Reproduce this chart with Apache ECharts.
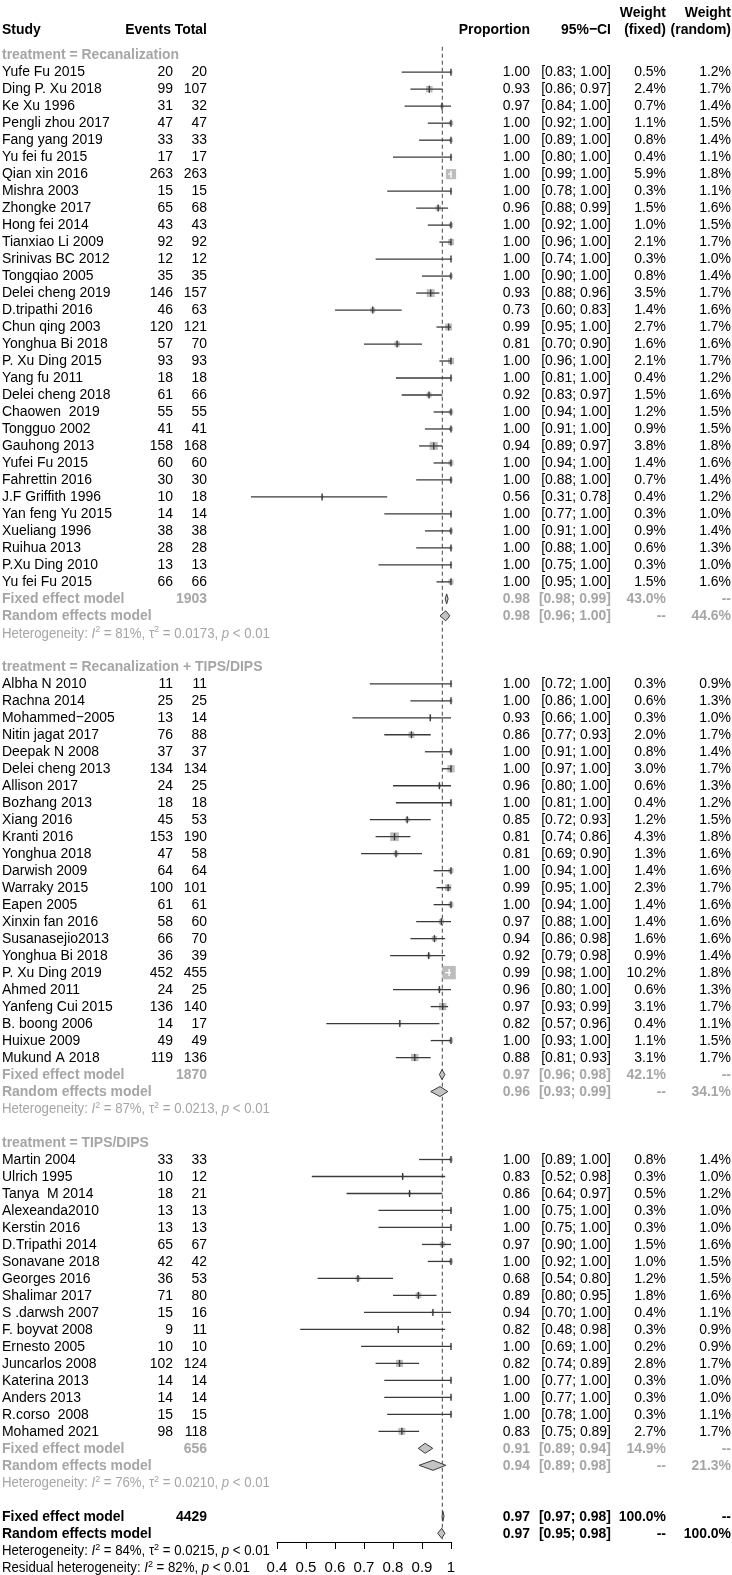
<!DOCTYPE html>
<html><head><meta charset="utf-8">
<script src="https://cdn.jsdelivr.net/npm/echarts@6/dist/echarts.min.js"></script>
<style>html,body{margin:0;padding:0;background:#fff}#c{width:732px;height:1575px}</style>
</head><body><div id="c"></div>
<script>
// ---------- DATA ----------
const groupNames = ['treatment = Recanalization', 'treatment = Recanalization + TIPS/DIPS', 'treatment = TIPS/DIPS'];

const g1Study = ['Yufe Fu 2015','Ding P. Xu 2018','Ke Xu 1996','Pengli zhou 2017','Fang yang 2019','Yu fei fu 2015','Qian xin 2016','Mishra 2003','Zhongke 2017','Hong fei 2014','Tianxiao Li 2009','Srinivas BC 2012','Tongqiao 2005','Delei cheng 2019','D.tripathi 2016','Chun qing 2003','Yonghua Bi 2018','P. Xu Ding 2015','Yang fu 2011','Delei cheng 2018','Chaowen  2019','Tongguo 2002','Gauhong 2013','Yufei Fu 2015','Fahrettin 2016','J.F Griffith 1996','Yan feng Yu 2015','Xueliang 1996','Ruihua 2013','P.Xu Ding 2010','Yu fei Fu 2015'];
const g1Events = [20,99,31,47,33,17,263,15,65,43,92,12,35,146,46,120,57,93,18,61,55,41,158,60,30,10,14,38,28,13,66];
const g1Total  = [20,107,32,47,33,17,263,15,68,43,92,12,35,157,63,121,70,93,18,66,55,41,168,60,30,18,14,38,28,13,66];
const g1Lo = [0.83,0.86,0.84,0.92,0.89,0.80,0.99,0.78,0.88,0.92,0.96,0.74,0.90,0.88,0.60,0.95,0.70,0.96,0.81,0.83,0.94,0.91,0.89,0.94,0.88,0.31,0.77,0.91,0.88,0.75,0.95];
const g1Hi = [1.00,0.97,1.00,1.00,1.00,1.00,1.00,1.00,0.99,1.00,1.00,1.00,1.00,0.96,0.83,1.00,0.90,1.00,1.00,0.97,1.00,1.00,0.97,1.00,1.00,0.78,1.00,1.00,1.00,1.00,1.00];
const g1WFixed  = [0.5,2.4,0.7,1.1,0.8,0.4,5.9,0.3,1.5,1.0,2.1,0.3,0.8,3.5,1.4,2.7,1.6,2.1,0.4,1.5,1.2,0.9,3.8,1.4,0.7,0.4,0.3,0.9,0.6,0.3,1.5];
const g1WRandom = [1.2,1.7,1.4,1.5,1.4,1.1,1.8,1.1,1.6,1.5,1.7,1.0,1.4,1.7,1.6,1.7,1.6,1.7,1.2,1.6,1.5,1.5,1.8,1.6,1.4,1.2,1.0,1.4,1.3,1.0,1.6];

const g2Study = ['Albha N 2010','Rachna 2014','Mohammed\u22122005','Nitin jagat 2017','Deepak N 2008','Delei cheng 2013','Allison 2017','Bozhang 2013','Xiang 2016','Kranti 2016','Yonghua 2018','Darwish 2009','Warraky 2015','Eapen 2005','Xinxin fan 2016','Susanasejio2013','Yonghua Bi 2018','P. Xu Ding 2019','Ahmed 2011','Yanfeng Cui 2015','B. boong 2006','Huixue 2009','Mukund A 2018'];
const g2Events = [11,25,13,76,37,134,24,18,45,153,47,64,100,61,58,66,36,452,24,136,14,49,119];
const g2Total  = [11,25,14,88,37,134,25,18,53,190,58,64,101,61,60,70,39,455,25,140,17,49,136];
const g2Lo = [0.72,0.86,0.66,0.77,0.91,0.97,0.80,0.81,0.72,0.74,0.69,0.94,0.95,0.94,0.88,0.86,0.79,0.98,0.80,0.93,0.57,0.93,0.81];
const g2Hi = [1.00,1.00,1.00,0.93,1.00,1.00,1.00,1.00,0.93,0.86,0.90,1.00,1.00,1.00,1.00,0.98,0.98,1.00,1.00,0.99,0.96,1.00,0.93];
const g2WFixed  = [0.3,0.6,0.3,2.0,0.8,3.0,0.6,0.4,1.2,4.3,1.3,1.4,2.3,1.4,1.4,1.6,0.9,10.2,0.6,3.1,0.4,1.1,3.1];
const g2WRandom = [0.9,1.3,1.0,1.7,1.4,1.7,1.3,1.2,1.5,1.8,1.6,1.6,1.7,1.6,1.6,1.6,1.4,1.8,1.3,1.7,1.1,1.5,1.7];

const g3Study = ['Martin 2004','Ulrich 1995','Tanya  M 2014','Alexeanda2010','Kerstin 2016','D.Tripathi 2014','Sonavane 2018','Georges 2016','Shalimar 2017','S .darwsh 2007','F. boyvat 2008','Ernesto 2005','Juncarlos 2008','Katerina 2013','Anders 2013','R.corso  2008','Mohamed 2021'];
const g3Events = [33,10,18,13,13,65,42,36,71,15,9,10,102,14,14,15,98];
const g3Total  = [33,12,21,13,13,67,42,53,80,16,11,10,124,14,14,15,118];
const g3Lo = [0.89,0.52,0.64,0.75,0.75,0.90,0.92,0.54,0.80,0.70,0.48,0.69,0.74,0.77,0.77,0.78,0.75];
const g3Hi = [1.00,0.98,0.97,1.00,1.00,1.00,1.00,0.80,0.95,1.00,0.98,1.00,0.89,1.00,1.00,1.00,0.89];
const g3WFixed  = [0.8,0.3,0.5,0.3,0.3,1.5,1.0,1.2,1.8,0.4,0.3,0.2,2.8,0.3,0.3,0.3,2.7];
const g3WRandom = [1.4,1.0,1.2,1.0,1.0,1.6,1.5,1.5,1.6,1.1,0.9,0.9,1.7,1.0,1.0,1.1,1.7];

// pooled estimates per subgroup (diamond geometry) and their printed labels
const groupTotal = [1903, 1870, 656];
const fixedEst = [0.985, 0.969, 0.911];
const fixedLo  = [0.980, 0.960, 0.887];
const fixedHi  = [0.990, 0.979, 0.937];
const fixedLabel = ['0.98 [0.98; 0.99]', '0.97 [0.96; 0.98]', '0.91 [0.89; 0.94]'];
const fixedWeight = ['43.0%', '42.1%', '14.9%'];
const randomEst = [0.982, 0.962, 0.938];
const randomLo  = [0.962, 0.930, 0.890];
const randomHi  = [0.996, 0.989, 0.982];
const randomLabel = ['0.98 [0.96; 1.00]', '0.96 [0.93; 0.99]', '0.94 [0.89; 0.98]'];
const randomWeight = ['44.6%', '34.1%', '21.3%'];
const hetI2 = ['81%', '87%', '76%'];
const hetTau2 = ['0.0173', '0.0213', '0.0210'];

const overallTotal = 4429;
const overallFixed = [0.972, 0.969, 0.976];   // est, lo, hi
const overallFixedLabel = '0.97 [0.97; 0.98]';
const overallRandom = [0.968, 0.954, 0.979];
const overallRandomLabel = '0.97 [0.95; 0.98]';
const overallI2 = '84%', overallTau2 = '0.0215', residualI2 = '82%';
const refLine = 0.97;

const xTicks = [0.4, 0.5, 0.6, 0.7, 0.8, 0.9, 1];

// ---------- BUILD ROWS ----------
const groups = [
  {study:g1Study, ev:g1Events, tot:g1Total, lo:g1Lo, hi:g1Hi, wf:g1WFixed, wr:g1WRandom},
  {study:g2Study, ev:g2Events, tot:g2Total, lo:g2Lo, hi:g2Hi, wf:g2WFixed, wr:g2WRandom},
  {study:g3Study, ev:g3Events, tot:g3Total, lo:g3Lo, hi:g3Hi, wf:g3WFixed, wr:g3WRandom}
];
const textRows = [];
const studyMarks = []; // [lo, hi, est, row, wf]
const diamonds = [];   // [lo, est, hi, row]
let start = 0;
groups.forEach((g, gi) => {
  textRows.push({row: start - 1, kind: 'gheader', name: groupNames[gi]});
  g.study.forEach((s, i) => {
    const r = start + i;
    const p = g.ev[i] / g.tot[i];
    textRows.push({row: r, kind: 'study', name: s, ev: g.ev[i], tot: g.tot[i],
      prop: p.toFixed(2), ci: '[' + g.lo[i].toFixed(2) + '; ' + g.hi[i].toFixed(2) + ']',
      wf: g.wf[i].toFixed(1) + '%', wr: g.wr[i].toFixed(1) + '%'});
    studyMarks.push([g.lo[i], g.hi[i], p, r, g.wf[i]]);
  });
  const n = g.study.length;
  textRows.push({row: start + n, kind: 'gfixed', tot: groupTotal[gi], lab: fixedLabel[gi], wf: fixedWeight[gi], wr: '--'});
  textRows.push({row: start + n + 1, kind: 'grandom', lab: randomLabel[gi], wf: '--', wr: randomWeight[gi]});
  textRows.push({row: start + n + 2, kind: 'ghet', i2: hetI2[gi], tau: hetTau2[gi]});
  diamonds.push([fixedLo[gi], fixedEst[gi], fixedHi[gi], start + n]);
  diamonds.push([randomLo[gi], randomEst[gi], randomHi[gi], start + n + 1]);
  start = start + n + 5;
});
const ovRow = start - 1;
textRows.push({row: ovRow, kind: 'ofixed', tot: overallTotal, lab: overallFixedLabel, wf: '100.0%', wr: '--'});
textRows.push({row: ovRow + 1, kind: 'orandom', lab: overallRandomLabel, wf: '--', wr: '100.0%'});
textRows.push({row: ovRow + 2, kind: 'ohet'});
textRows.push({row: ovRow + 3, kind: 'ores'});
diamonds.push([overallFixed[1], overallFixed[0], overallFixed[2], ovRow]);
diamonds.push([overallRandom[1], overallRandom[0], overallRandom[2], ovRow + 1]);
textRows.push({row: -3.48, kind: 'head1'});
textRows.push({row: -2.48, kind: 'head2'});

// ---------- STYLE ----------
const FN = "'Liberation Sans',Arial,Helvetica,sans-serif";
const FS = 15.5, SX = 0.9;      // condensed look of the original
const FSH = 14.5, SXH = 0.91;
const GRAY = '#a6a6a6';
const X = {study: 2, ev: 173, tot: 207, prop: 530, ci: 611, wf: 666, wr: 731};

function T(x, y, text, opt) {
  opt = opt || {};
  return {type: 'text', x: x, y: y, scaleX: opt.sx || SX, silent: true, style: {
    text: text, fill: opt.fill || '#000', fontFamily: FN, fontSize: opt.size || FS,
    fontWeight: opt.bold ? 'bold' : 'normal', align: opt.align || 'left', verticalAlign: 'middle',
    rich: opt.rich }};
}
function hetRich(fill, size) {
  const base = {fill: fill, fontFamily: FN, fontSize: size, lineHeight: size + 2, verticalAlign: 'bottom'};
  return {
    n: base,
    i: Object.assign({}, base, {fontStyle: 'italic'}),
    s: Object.assign({}, base, {fontSize: size * 0.68, verticalAlign: 'top', lineHeight: size * 0.68})
  };
}

function renderText(params, api) {
  const r = textRows[params.dataIndex];
  const y = api.coord([0.4, r.row])[1];
  const c = [];
  const bo = {bold: true};
  switch (r.kind) {
    case 'head1':
      c.push(T(X.wf, y, 'Weight', {bold: true, align: 'right'}));
      c.push(T(X.wr, y, 'Weight', {bold: true, align: 'right'}));
      break;
    case 'head2':
      c.push(T(X.study, y, 'Study', bo));
      c.push(T(X.ev - 2, y, 'Events', {bold: true, align: 'right'}));
      c.push(T(X.tot, y, 'Total', {bold: true, align: 'right'}));
      c.push(T(X.prop, y, 'Proportion', {bold: true, align: 'right'}));
      c.push(T(X.ci, y, '95%\u2212CI', {bold: true, align: 'right'}));
      c.push(T(X.wf, y, '(fixed)', {bold: true, align: 'right'}));
      c.push(T(X.wr, y, '(random)', {bold: true, align: 'right'}));
      break;
    case 'gheader':
      c.push(T(X.study, y, r.name, {bold: true, fill: GRAY}));
      break;
    case 'study':
      c.push(T(X.study, y, r.name));
      c.push(T(X.ev, y, String(r.ev), {align: 'right'}));
      c.push(T(X.tot, y, String(r.tot), {align: 'right'}));
      c.push(T(X.prop, y, r.prop, {align: 'right'}));
      c.push(T(X.ci, y, r.ci, {align: 'right'}));
      c.push(T(X.wf, y, r.wf, {align: 'right'}));
      c.push(T(X.wr, y, r.wr, {align: 'right'}));
      break;
    case 'gfixed': case 'grandom': case 'ofixed': case 'orandom': {
      const fill = (r.kind[0] === 'g') ? GRAY : '#000';
      const o = {bold: true, fill: fill, align: 'right'};
      c.push(T(X.study, y, r.kind.indexOf('fixed') >= 0 ? 'Fixed effect model' : 'Random effects model', {bold: true, fill: fill}));
      if (r.tot) c.push(T(X.tot, y, String(r.tot), o));
      const parts = r.lab.split(' [');
      c.push(T(X.prop, y, parts[0], o));
      c.push(T(X.ci, y, '[' + parts[1], o));
      c.push(T(X.wf, y, r.wf, o));
      c.push(T(X.wr, y, r.wr, o));
      break;
    }
    case 'ghet':
      c.push(T(X.study, y, '{n|Heterogeneity: }{i|I}{s|2}{n| = ' + r.i2 + ', \u03c4}{s|2}{n| = ' + r.tau + ', }{i|p}{n| < 0.01}',
        {size: FSH, sx: SXH, fill: GRAY, rich: hetRich(GRAY, FSH)}));
      break;
    case 'ohet':
      c.push(T(X.study, y, '{n|Heterogeneity: }{i|I}{s|2}{n| = ' + overallI2 + ', \u03c4}{s|2}{n| = ' + overallTau2 + ', }{i|p}{n| < 0.01}',
        {size: FSH, sx: SXH, rich: hetRich('#000', FSH)}));
      break;
    case 'ores':
      c.push(T(X.study, y, '{n|Residual heterogeneity: }{i|I}{s|2}{n| = ' + residualI2 + ', }{i|p}{n| < 0.01}',
        {size: FSH, sx: SXH, rich: hetRich('#000', FSH)}));
      break;
  }
  return {type: 'group', children: c};
}

function renderStudy(params, api) {
  const lo = api.value(0), hi = api.value(1), est = api.value(2), row = api.value(3), wf = api.value(4);
  const p1 = api.coord([lo, row]), p2 = api.coord([hi, row]), pe = api.coord([est, row]);
  const s = 4.2 * Math.sqrt(wf);
  const inside = s / 2 >= Math.max(pe[0] - p1[0], p2[0] - pe[0]);
  const col = inside ? '#ffffff' : '#3a3a3a';
  return {type: 'group', children: [
    {type: 'rect', shape: {x: pe[0] - s / 2, y: pe[1] - s / 2, width: s, height: s}, style: {fill: '#bdbdbd'}},
    {type: 'line', shape: {x1: p1[0], y1: p1[1], x2: p2[0], y2: p2[1]}, style: {stroke: col, lineWidth: 1.3}},
    {type: 'line', shape: {x1: pe[0], y1: pe[1] - 3.5, x2: pe[0], y2: pe[1] + 3.5}, style: {stroke: col, lineWidth: 1.4}}
  ]};
}

function renderDiamond(params, api) {
  const lo = api.value(0), est = api.value(1), hi = api.value(2), row = api.value(3);
  const a = api.coord([lo, row]), m = api.coord([est, row]), b = api.coord([hi, row]);
  const h = 5;
  return {type: 'polygon', shape: {points: [[a[0], a[1]], [m[0], m[1] - h], [b[0], b[1]], [m[0], m[1] + h]]},
    style: {fill: '#c4c4c4', stroke: '#3a3a3a', lineWidth: 1}};
}

// ---------- CHART ----------
const chart = echarts.init(document.getElementById('c'), null, {renderer: 'canvas'});
const ROWPX = 17;
const axisY = 1543;
const yMin = -4.25;
const yMax = yMin + axisY / ROWPX;

chart.setOption({
  animation: false,
  backgroundColor: '#ffffff',
  grid: {left: 277, right: 732 - 451, top: 0, height: axisY, containLabel: false},
  xAxis: {
    type: 'value', min: 0.4, max: 1.0, interval: 0.1, position: 'bottom',
    axisLine: {show: true, onZero: false, lineStyle: {color: '#000', width: 1}},
    axisTick: {show: true, length: 7, lineStyle: {color: '#000', width: 1}},
    axisLabel: {show: true, margin: 18, color: '#000', fontFamily: FN, fontSize: 15,
      formatter: v => { const t = xTicks.find(k => Math.abs(k - v) < 1e-6); return t === undefined ? '' : (t === 1 ? '1' : t.toFixed(1)); }},
    splitLine: {show: false}
  },
  yAxis: {type: 'value', min: yMin, max: yMax, inverse: true, show: false},
  series: [
    {type: 'line', data: [[refLine, -1.5], [refLine, 86.35]], symbol: 'none', silent: true, z: 1,
      lineStyle: {color: '#444', width: 1, type: [4, 3]}},
    {type: 'custom', data: studyMarks, renderItem: renderStudy, clip: false, silent: true, z: 3},
    {type: 'custom', data: diamonds, renderItem: renderDiamond, clip: false, silent: true, z: 4},
    {type: 'custom', data: textRows.map(r => [0.4, r.row]), renderItem: renderText, clip: false, silent: true, z: 5}
  ]
});
</script></body></html>
